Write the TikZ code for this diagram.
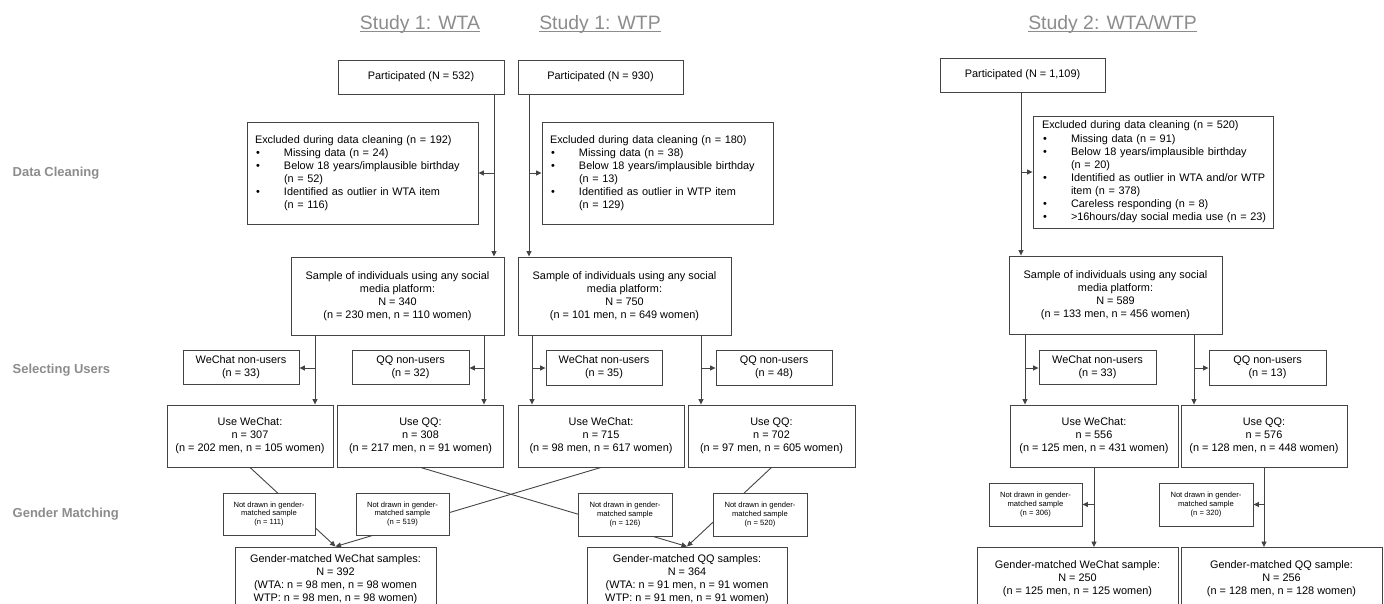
\documentclass[tikz,border=0pt]{standalone}
\usepackage{fontspec}
\setmainfont{Liberation Sans}
\usetikzlibrary{arrows.meta}

\definecolor{headgray}{HTML}{8C8C8C}
\definecolor{linegray}{HTML}{444444}

\newcommand\exitem[1]{\mbox{\makebox[29pt][l]{\hspace{1pt}\textbullet}#1}}
\newcommand\exmore[1]{\mbox{\hspace*{29pt}#1}}

\begin{document}
\begin{tikzpicture}[
  x=1pt, y=-1pt,
  box/.style={draw=linegray, line width=0.9pt, fill=white, align=center, inner sep=0pt, font=\fontsize{10.9}{13.1}\selectfont},
  size/.style 2 args={minimum width=#1pt, minimum height=#2pt},
  exbox/.style={box, align=left, inner xsep=8pt},
  small/.style={box, font=\fontsize{7.6}{8.7}\selectfont},
  head/.style={text=headgray, inner sep=0pt, anchor=base, font=\fontsize{19.4}{23}\selectfont},
  uline/.style={draw=headgray, line width=1pt},
  phase/.style={text=headgray, anchor=west, inner sep=0pt, font=\fontsize{13}{15}\selectfont\bfseries},
  arr/.style={draw=linegray, line width=0.9pt, -{Triangle[length=5.5pt, width=5pt]}}
]
\useasboundingbox (0,0) rectangle (1384,603);
\clip (0,0) rectangle (1384,603);

\node[head] (ttA) at (420,29) {Study 1: WTA};
\node[head] (ttP) at (600,29) {Study 1: WTP};
\node[head] (tt2) at (1112.5,29) {Study 2: WTA/WTP};
\draw[uline] ([yshift=-2.5pt]ttA.base west) -- ([yshift=-2.5pt]ttA.base east);
\draw[uline] ([yshift=-2.5pt]ttP.base west) -- ([yshift=-2.5pt]ttP.base east);
\draw[uline] ([yshift=-2.5pt]tt2.base west) -- ([yshift=-2.5pt]tt2.base east);

\node[phase] (phClean) at (12.5,173) {Data Cleaning};
\node[phase] (phSelect) at (12.5,370) {Selecting Users};
\node[phase] (phMatch) at (12.5,514) {Gender Matching};

\node[box, size={166}{34}] (partA) at (421,77) {Participated (N = 532)};
\node[box, size={165}{34}] (partP) at (600.5,77) {Participated (N = 930)};
\node[exbox, text width=215pt, minimum height=102pt] (exclA) at (362.5,173) {%
  \mbox{Excluded during data cleaning (n = 192)}\\
  \exitem{Missing data (n = 24)}\\
  \exitem{Below 18 years/implausible birthday}\\
  \exmore{(n = 52)}\\
  \exitem{Identified as outlier in WTA item}\\
  \exmore{(n = 116)}};
\node[exbox, text width=215pt, minimum height=102pt] (exclP) at (657.5,173) {%
  \mbox{Excluded during data cleaning (n = 180)}\\
  \exitem{Missing data (n = 38)}\\
  \exitem{Below 18 years/implausible birthday}\\
  \exmore{(n = 13)}\\
  \exitem{Identified as outlier in WTP item}\\
  \exmore{(n = 129)}};
\node[box, size={213}{78}] (sampA) at (397.5,296) {Sample of individuals using any social\\media platform:\\N = 340\\(n = 230 men, n = 110 women)};
\node[box, size={213}{78}] (sampP) at (624.5,296) {Sample of individuals using any social\\media platform:\\N = 750\\(n = 101 men, n = 649 women)};

\node[box, size={116}{34}] (nwA) at (241,367) {WeChat non-users\\(n = 33)};
\node[box, size={117}{34}] (nqA) at (410.5,367) {QQ non-users\\(n = 32)};
\node[box, size={116}{35}] (nwP) at (604,367.5) {WeChat non-users\\(n = 35)};
\node[box, size={116}{35}] (nqP) at (774,367.5) {QQ non-users\\(n = 48)};

\node[box, size={166}{62}] (uwA) at (250,436) {Use WeChat:\\n = 307\\(n = 202 men, n = 105 women)};
\node[box, size={166}{62}] (uqA) at (420.5,436) {Use QQ:\\n = 308\\(n = 217 men, n = 91 women)};
\node[box, size={166}{62}] (uwP) at (601,436) {Use WeChat:\\n = 715\\(n = 98 men, n = 617 women)};
\node[box, size={167}{62}] (uqP) at (771.5,436) {Use QQ:\\n = 702\\(n = 97 men, n = 605 women)};

\node[box, size={201}{64}, anchor=north] (gmW) at (335.5,546.5) {Gender-matched WeChat samples:\\N = 392\\(WTA: n = 98 men, n = 98 women\\WTP: n = 98 men, n = 98 women)};
\node[box, size={200}{64}, anchor=north] (gmQ) at (687,546.5) {Gender-matched QQ samples:\\N = 364\\(WTA: n = 91 men, n = 91 women\\WTP: n = 91 men, n = 91 women)};

\draw[arr] (uwA.south) -- (gmW.north);
\draw[arr] (uwP.south) -- (gmW.north);
\draw[arr] (uqA.south) -- (gmQ.north);
\draw[arr] (uqP.south) -- (gmQ.north);

\node[small, size={92}{42}] (ndA1) at (269,514) {Not drawn in gender-\\matched sample\\(n = 111)};
\node[small, size={93}{42}] (ndA2) at (402.5,514) {Not drawn in gender-\\matched sample\\(n = 519)};
\node[small, size={94}{43}] (ndP1) at (625,514.5) {Not drawn in gender-\\matched sample\\(n = 126)};
\node[small, size={94}{43}] (ndP2) at (760,514.5) {Not drawn in gender-\\matched sample\\(n = 520)};

\coordinate (cA) at (494,173);
\coordinate (cP) at (529,173);
\coordinate (sA1) at (315,368);
\coordinate (sA2) at (484,368);
\coordinate (sP1) at (532,368);
\coordinate (sP2) at (701,368);

\draw[arr] (partA.south -| cA) -- (sampA.north -| cA);
\draw[arr] (cA) -- (cA -| exclA.east);
\draw[arr] (partP.south -| cP) -- (sampP.north -| cP);
\draw[arr] (cP) -- (cP -| exclP.west);

\draw[arr] (sampA.south -| sA1) -- (uwA.north -| sA1);
\draw[arr] (sA1) -- (sA1 -| nwA.east);
\draw[arr] (sampA.south -| sA2) -- (uqA.north -| sA2);
\draw[arr] (sA2) -- (sA2 -| nqA.east);
\draw[arr] (sampP.south -| sP1) -- (uwP.north -| sP1);
\draw[arr] (sP1) -- (sP1 -| nwP.west);
\draw[arr] (sampP.south -| sP2) -- (uqP.north -| sP2);
\draw[arr] (sP2) -- (sP2 -| nqP.west);

\node[box, size={165}{34}] (part2) at (1022.5,75) {Participated (N = 1,109)};
\node[exbox, inner xsep=9pt, text width=222pt, minimum height=112pt] (excl2) at (1153,172) {%
  \mbox{Excluded during data cleaning (n = 520)}\\
  \exitem{Missing data (n = 91)}\\
  \exitem{Below 18 years/implausible birthday}\\
  \exmore{(n = 20)}\\
  \exitem{Identified as outlier in WTA and/or WTP}\\
  \exmore{item (n = 378)}\\
  \exitem{Careless responding (n = 8)}\\
  \exitem{>16hours/day social media use (n = 23)}};
\node[box, size={213}{78}] (samp2) at (1115.5,295) {Sample of individuals using any social\\media platform:\\N = 589\\(n = 133 men, n = 456 women)};
\node[box, size={117}{34}] (nw2) at (1097.5,367) {WeChat non-users\\(n = 33)};
\node[box, size={117}{35}] (nq2) at (1267.5,367.5) {QQ non-users\\(n = 13)};
\node[box, size={168}{62}] (uw2) at (1094,436) {Use WeChat:\\n = 556\\(n = 125 men, n = 431 women)};
\node[box, size={166}{62}] (uq2) at (1264,436) {Use QQ:\\n = 576\\(n = 128 men, n = 448 women)};
\node[small, size={93}{43}] (nd21) at (1035.5,504.5) {Not drawn in gender-\\matched sample\\(n = 306)};
\node[small, size={94}{43}] (nd22) at (1206,504.5) {Not drawn in gender-\\matched sample\\(n = 320)};
\node[box, size={201}{62}, anchor=north] (gm2W) at (1077.5,547) {Gender-matched WeChat sample:\\N = 250\\(n = 125 men, n = 125 women)};
\node[box, size={201}{62}, anchor=north] (gm2Q) at (1281.5,547) {Gender-matched QQ sample:\\N = 256\\(n = 128 men, n = 128 women)};

\coordinate (c2) at (1021,172);
\coordinate (s21) at (1025,368);
\coordinate (s22) at (1194,368);

\draw[arr] (part2.south -| c2) -- (samp2.north -| c2);
\draw[arr] (c2) -- (c2 -| excl2.west);
\draw[arr] (samp2.south -| s21) -- (uw2.north -| s21);
\draw[arr] (s21) -- (s21 -| nw2.west);
\draw[arr] (samp2.south -| s22) -- (uq2.north -| s22);
\draw[arr] (s22) -- (s22 -| nq2.west);
\draw[arr] (uw2.south) -- (uw2.south |- gm2W.north);
\draw[arr] (uw2.south |- nd21.east) -- (nd21.east);
\draw[arr] (uq2.south) -- (uq2.south |- gm2Q.north);
\draw[arr] (uq2.south |- nd22.east) -- (nd22.east);
\end{tikzpicture}
\end{document}
